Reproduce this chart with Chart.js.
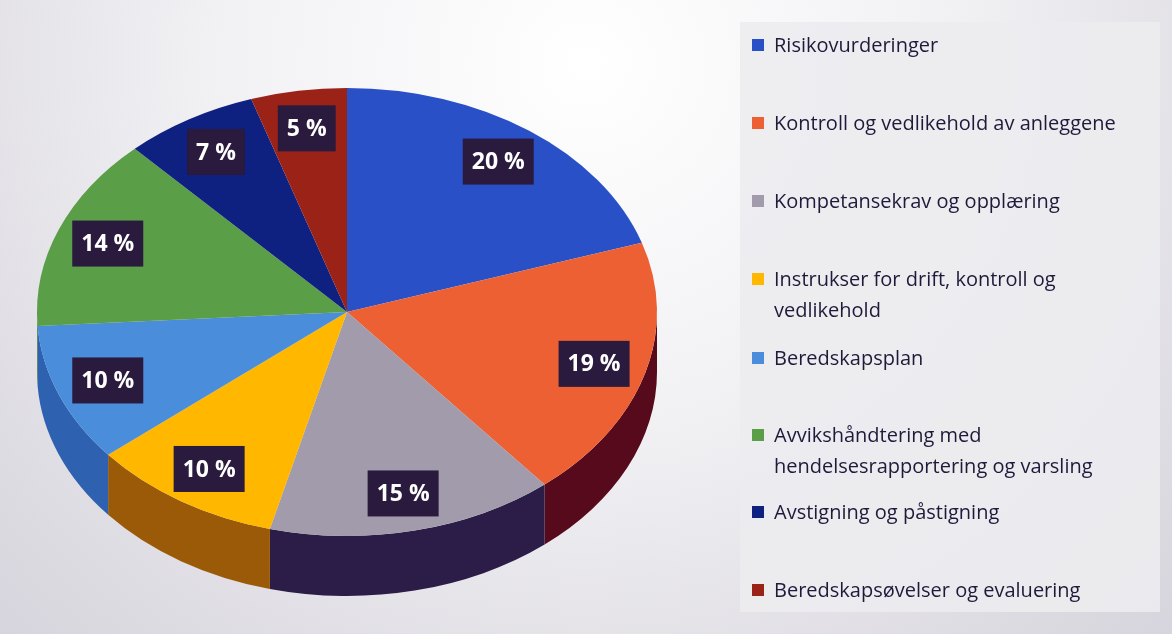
<!DOCTYPE html>
<html><head><meta charset="utf-8">
<script src="https://cdn.jsdelivr.net/npm/chart.js@4"></script>
<style>
body{margin:0;width:1172px;height:634px;overflow:hidden;background:radial-gradient(ellipse at 50% 10%,#ffffff 0%,#f1f0f3 45%,#d6d4dc 100%);font-family:"Open Sans",sans-serif}
#wrap{position:absolute;left:0;top:0;width:1172px;height:634px}
#legend{position:absolute;left:740px;top:22px;width:420px;height:590px;background:rgba(236,236,240,0.9)}
.item{position:absolute;left:12px;width:400px;font-size:20px;line-height:31px;color:#1f1a3a}
.item span{position:absolute;left:0;top:10px;width:12px;height:12px}
.item div{margin-left:22px}
</style></head><body>
<div id="wrap"><canvas id="pie" width="1172" height="634"></canvas></div>
<div id="legend"></div>
<script>
const categories = ["Risikovurderinger", "Kontroll og vedlikehold av anleggene", "Kompetansekrav og opplæring", "Instrukser for drift, kontroll og|vedlikehold", "Beredskapsplan", "Avvikshåndtering med|hendelsesrapportering og varsling", "Avstigning og påstigning", "Beredskapsøvelser og evaluering"];
const values = [20, 19, 15, 10, 10, 14, 7, 5];
const colors = ["#2a50c8", "#ed6033", "#a19bab", "#ffb700", "#4a8ddb", "#5b9e48", "#0e2080", "#9b2216"];
const sideColors = ["#1d3a98", "#560a1c", "#2c1c48", "#9a5a08", "#2e62b0", "#3d6e30", "#0a1560", "#601510"];
const legendTops = [7, 85, 163, 241, 320, 397, 474, 552];

// legend (html, because of wrapped lines)
const lg = document.getElementById('legend');
categories.forEach((c, i) => {
  const d = document.createElement('div');
  d.className = 'item';
  d.style.top = legendTops[i] + 'px';
  d.innerHTML = '<span style="background:' + colors[i] + '"></span><div>' + c.split('|').join('<br>') + '</div>';
  lg.appendChild(d);
});

const EX = 347, EY = 312, RX = 310, RY = 224, DEPTH = 60;

function toEllipse(arc, ctx) {
  const r = arc.outerRadius;
  ctx.translate(EX, EY);
  ctx.scale(RX / r, RY / r);
  ctx.translate(-arc.x, -arc.y);
}

const tilt = {
  id: 'tilt',
  beforeDatasetsDraw(chart) {
    const ctx = chart.ctx;
    const arcs = chart.getDatasetMeta(0).data;
    // side walls
    arcs.forEach((a, i) => {
      const s = Math.max(a.startAngle, 0), e = Math.min(a.endAngle, Math.PI);
      if (e <= s) return;
      ctx.save();
      ctx.beginPath();
      ctx.ellipse(EX, EY, RX, RY, 0, s, e);
      ctx.ellipse(EX, EY + DEPTH, RX, RY, 0, e, s, true);
      ctx.closePath();
      ctx.fillStyle = sideColors[i];
      ctx.fill();
      ctx.restore();
    });
    ctx.save();
    toEllipse(arcs[0], ctx);
  },
  afterDatasetsDraw(chart) {
    const ctx = chart.ctx;
    ctx.restore();
    const arcs = chart.getDatasetMeta(0).data;
    ctx.save();
    ctx.font = 'bold 23px "Open Sans", sans-serif';
    ctx.textAlign = 'center';
    ctx.textBaseline = 'middle';
    arcs.forEach((a, i) => {
      const m = (a.startAngle + a.endAngle) / 2;
      const x = EX + Math.cos(m) * RX * 0.83;
      const y = EY + Math.sin(m) * RY * 0.83;
      const t = values[i] + ' %';
      const w = ctx.measureText(t).width + 18;
      ctx.fillStyle = '#2a1a3e';
      ctx.fillRect(x - w / 2, y - 23, w, 46);
      ctx.fillStyle = '#ffffff';
      ctx.fillText(t, x, y + 1);
    });
    ctx.restore();
  }
};

new Chart(document.getElementById('pie'), {
  type: 'pie',
  data: {
    labels: categories.map(c => c.replace('|', ' ')),
    datasets: [{ data: values, backgroundColor: colors, borderWidth: 0 }]
  },
  options: {
    responsive: false,
    animation: false,
    plugins: { legend: { display: false }, tooltip: { enabled: false } }
  },
  plugins: [tilt]
});
</script>
</body></html>
